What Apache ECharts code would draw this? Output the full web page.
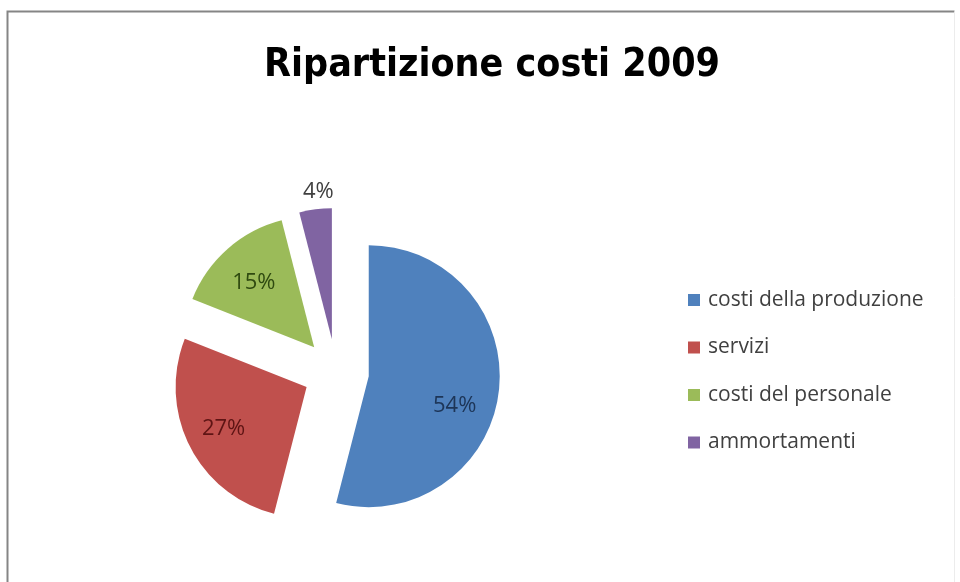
<!DOCTYPE html>
<html>
<head>
<meta charset="utf-8">
<script src="https://cdn.jsdelivr.net/npm/echarts@6/dist/echarts.min.js"></script>
<style>
html,body{margin:0;padding:0;background:#fff;}
#chart{width:960px;height:582px;}
</style>
</head>
<body>
<div id="chart"></div>
<script>
const titleText = 'Ripartizione costi 2009';
const categories = ['costi della produzione', 'servizi', 'costi del personale', 'ammortamenti'];
const values = [54, 27, 15, 4];
const sliceColors = ['#4f81bd', '#c0504d', '#9bbb59', '#8064a2'];
const labelColors = ['#1d3557', '#5e1414', '#2f4a10', '#404040'];
const labelShift = [[18, 21], [-22, 11], [-15, -13], [-5, -80]];

const chart = echarts.init(document.getElementById('chart'), null, {renderer: 'canvas'});
const option = {
  animation: false,
  backgroundColor: '#ffffff',
  title: {
    text: titleText,
    left: 487,
    textAlign: 'center',
    top: 41,
    textStyle: {
      fontFamily: '"Liberation Sans Narrow", "DejaVu Sans Condensed", sans-serif',
      fontWeight: 'bold',
      fontSize: 39,
      color: '#000000'
    }
  },
  legend: {
    orient: 'vertical',
    left: 683,
    top: 284,
    icon: 'rect',
    itemWidth: 12,
    itemHeight: 12,
    itemGap: 25.5,
    selectedMode: false,
    data: categories,
    textStyle: {
      fontFamily: '"Open Sans", sans-serif',
      fontSize: 21,
      lineHeight: 22,
      color: '#404040',
      padding: [0, 0, 0, 3]
    }
  },
  graphic: [
    {
      type: 'polyline',
      silent: true,
      shape: {points: [[7.5, 600], [7.5, 11.5], [954.5, 11.5]]},
      style: {stroke: '#858585', lineWidth: 2, fill: null}
    },
    {
      type: 'line',
      silent: true,
      shape: {x1: 954.5, y1: 11.5, x2: 954.5, y2: 600},
      style: {stroke: '#ececec', lineWidth: 1}
    }
  ],
  series: [{
    type: 'pie',
    center: [336, 372],
    radius: 131,
    startAngle: 90,
    clockwise: true,
    selectedMode: 'multiple',
    selectedOffset: 33,
    avoidLabelOverlap: false,
    emphasis: {disabled: true},
    select: {itemStyle: {borderWidth: 0}},
    label: {
      show: true,
      position: 'inside',
      formatter: '{d}%',
      fontFamily: '"Open Sans", sans-serif',
      fontSize: 22
    },
    labelLine: {show: false},
    labelLayout: function (p) {
      const s = labelShift[p.dataIndex];
      return {dx: s[0], dy: s[1]};
    },
    data: categories.map((c, i) => ({
      name: c,
      value: values[i],
      selected: true,
      itemStyle: {color: sliceColors[i]},
      label: {color: labelColors[i]}
    }))
  }]
};
chart.setOption(option);
</script>
</body>
</html>
